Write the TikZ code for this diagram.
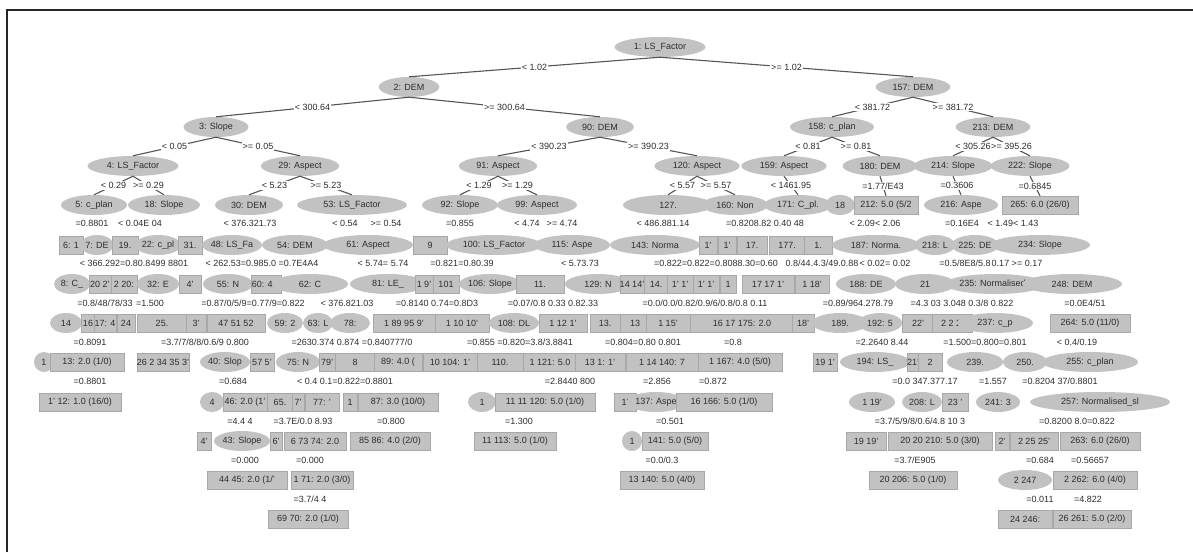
\documentclass[tikz,border=0pt]{standalone}
\usepackage{fontspec}
\setmainfont{Liberation Sans}
\usetikzlibrary{shapes.geometric}
\definecolor{nodegray}{RGB}{194,194,194}
\definecolor{leafline}{RGB}{168,168,168}
\definecolor{edgegray}{RGB}{85,85,85}
\definecolor{textgray}{RGB}{45,45,45}

\begin{document}
\begin{tikzpicture}[
    x=1pt, y=-1pt,
    every node/.style={font=\fontsize{9}{10}\selectfont, text=textgray},
    split/.style={ellipse, fill=nodegray, inner xsep=6pt, inner ysep=0pt, minimum height=20pt},
    leaf/.style={rectangle, fill=nodegray, draw=leafline, line width=0.4pt,
      inner xsep=1pt, inner ysep=0pt, minimum height=18pt},
    cond/.style={fill=white, inner sep=1pt},
    branch/.style={draw=edgegray, line width=1.1pt},
  ]
\useasboundingbox (0,0) rectangle (1193,552);
\draw[line width=1.6pt, black!85] (7,552) -- (7,10) -- (1193,10);

% --- row y-positions (nodes)
\def\yA{47}\def\yB{87}\def\yC{127}\def\yD{166}\def\yE{205}\def\yF{245}\def\yG{284}
\def\yH{323}\def\yI{362}\def\yJ{402}\def\yK{441}\def\yL{480}\def\yM{519}
% --- row y-positions (split values)
\def\lE{223}\def\lF{263}\def\lG{303}\def\lH{342}\def\lI{381}\def\lJ{421}\def\lK{460}\def\lL{499}

% Levels 0-3
\node[split] (n1) at (660,\yA) {1: LS\_Factor};
\node[split] (n2) at (409,\yB) {2: DEM};
\node[split] (n157) at (913,\yB) {157: DEM};
\node[split] (n3) at (216,\yC) {3: Slope};
\node[split] (n90) at (600,\yC) {90: DEM};
\node[split] (n158) at (832,\yC) {158: c\_plan};
\node[split] (n213) at (993,\yC) {213: DEM};
\node[split] (n4) at (133,\yD) {4: LS\_Factor};
\node[split] (n29) at (300,\yD) {29: Aspect};
\node[split] (n91) at (498,\yD) {91: Aspect};
\node[split] (n120) at (697,\yD) {120: Aspect};
\node[split] (n159) at (784,\yD) {159: Aspect};
\node[split] (n180) at (880,\yD) {180: DEM};
\node[split] (n214) at (953,\yD) {214: Slope};
\node[split] (n222) at (1030,\yD) {222: Slope};

% Level 4
\node[split, inner xsep=0pt, minimum width=66] (n5) at (94,\yE) {5: c\_plan};
\node[split, inner xsep=0pt, minimum width=72] (n18) at (164,\yE) {18: Slope};
\node[split, inner xsep=0pt, minimum width=68] (n30) at (249,\yE) {30: DEM};
\node[split, inner xsep=0pt, minimum width=110] (n53) at (352,\yE) {53: LS\_Factor};
\node[split, inner xsep=0pt, minimum width=76] (n92) at (460,\yE) {92: Slope};
\node[split, inner xsep=0pt, minimum width=80] (n99) at (537,\yE) {99: Aspect};
\node[split, inner xsep=0pt, minimum width=90] (n127) at (668,\yE) {127.};
\node[split, inner xsep=0pt, minimum width=66] (n160) at (735,\yE) {160: Non};
\node[split, inner xsep=0pt, minimum width=68] (n171) at (798,\yE) {171: C\_pl.};
\node[split, inner xsep=0pt, minimum width=30] (n18x) at (840,\yE) {18};
\node[leaf, minimum width=64] (n212) at (886,\yE) {212: 5.0 (5/2};
\node[split, inner xsep=0pt, minimum width=74] (n216) at (961,\yE) {216: Aspe};
\node[leaf, minimum width=76] (n265) at (1040,\yE) {265: 6.0 (26/0)};

% Connectors with split values
\draw[branch] (n1.south) -- node[cond] {< 1.02} (n2.north);
\draw[branch] (n1.south) -- node[cond] {>= 1.02} (n157.north);
\draw[branch] (n2.south) -- node[cond] {< 300.64} (n3.north);
\draw[branch] (n2.south) -- node[cond] {>= 300.64} (n90.north);
\draw[branch] (n157.south) -- node[cond] {< 381.72} (n158.north);
\draw[branch] (n157.south) -- node[cond] {>= 381.72} (n213.north);
\draw[branch] (n3.south) -- node[cond] {< 0.05} (n4.north);
\draw[branch] (n3.south) -- node[cond] {>= 0.05} (n29.north);
\draw[branch] (n90.south) -- node[cond] {< 390.23} (n91.north);
\draw[branch] (n90.south) -- node[cond] {>= 390.23} (n120.north);
\draw[branch] (n158.south) -- node[cond] {< 0.81} (n159.north);
\draw[branch] (n158.south) -- node[cond] {>= 0.81} (n180.north);
\draw[branch] (n213.south) -- node[cond] {< 305.26} (n214.north);
\draw[branch] (n213.south) -- node[cond] {>= 395.26} (n222.north);
\draw[branch] (n4.south) -- node[cond] {< 0.29} (n5.north);
\draw[branch] (n4.south) -- node[cond] {>= 0.29} (n18.north);
\draw[branch] (n29.south) -- node[cond] {< 5.23} (n30.north);
\draw[branch] (n29.south) -- node[cond] {>= 5.23} (n53.north);
\draw[branch] (n91.south) -- node[cond] {< 1.29} (n92.north);
\draw[branch] (n91.south) -- node[cond] {>= 1.29} (n99.north);
\draw[branch] (n120.south) -- node[cond] {< 5.57} (n127.north);
\draw[branch] (n120.south) -- node[cond] {>= 5.57} (n160.north);
\draw[branch] (n159.south) -- node[cond] {< 1461.95} (n171.north);
\draw[branch] (n180.south) -- node[cond] {=1.77/E43} (n212.north);
\draw[branch] (n214.south) -- node[cond] {=0.3606} (n216.north);
\draw[branch] (n222.south) -- node[cond] {=0.6845} (n265.north);

% Rows 5-12, packed side by side
\foreach \x/\wid/\kind/\txt [count=\i] in {71/24/leaf/{6: 1}, 97/30/split/{7: DE},
    125/26/leaf/{19.}, 158/40/split/{22: c\_pl}, 190/24/leaf/{31.}, 232/56/split/{48: LS\_Fa},
    295/66/split/{54: DEM}, 368/90/split/{61: Aspect}, 430/34/leaf/{9},
    494/96/split/{100: LS\_Factor}, 572/76/split/{115: Aspe}, 655/90/split/{143: Norma},
    708/18/leaf/{1'}, 727/18/leaf/{1'}, 752/30/leaf/{17.}, 787/36/leaf/{177.}, 818/28/leaf/{1.},
    876/88/split/{187: Norma.}, 935/40/split/{218: L}, 975/40/split/{225: DE},
    1040/100/split/{234: Slope}}
  \node[\kind, inner xsep=0pt, minimum width=\wid] (rF-\i) at (\x,\yF) {\txt};

\foreach \x/\wid/\kind/\txt [count=\i] in {72/36/split/{8: C\_}, 100/22/leaf/{20 2'},
    124/26/leaf/{2 20:}, 158/42/split/{32: E}, 190/22/leaf/{4'}, 228/50/split/{55: N},
    266/30/leaf/{60: 4.0}, 310/76/split/{62: C}, 388/76/split/{81: LE\_}, 424/18/leaf/{1 9'},
    446/26/leaf/{101}, 490/60/split/{106: Slope}, 540/48/leaf/{11.}, 598/66/split/{129: N},
    632/24/leaf/{14 14'}, 656/24/leaf/{14.}, 680/26/leaf/{1' 1'}, 706/26/leaf/{1' 1'},
    728/16/leaf/{1}, 768/52/leaf/{17 17 1'}, 812/34/leaf/{1 18'}, 866/60/split/{188: DE},
    925/60/split/{21}, 995/92/split/{235: Normalised\_}, 1072/100/split/{248: DEM}}
  \node[\kind, inner xsep=0pt, minimum width=\wid] (rG-\i) at (\x,\yG) {\txt};

\foreach \x/\wid/\kind/\txt [count=\i] in {66/32/split/{14}, 88/14/leaf/{16},
    105/22/leaf/{17: 4}, 126/18/leaf/{24}, 162/50/leaf/{25.}, 196/20/leaf/{3'},
    236/58/leaf/{47 51 52}, 285/36/split/{59: 2}, 318/30/split/{63: L}, 350/40/split/{78:},
    404/62/leaf/{1 89 95 9'}, 462/54/leaf/{1 10 10'}, 514/50/split/{108: DL},
    563/48/leaf/{1 12 1'}, 605/30/leaf/{13.}, 635/30/leaf/{13}, 668/44/leaf/{1 15'},
    742/104/leaf/{16 17 175: 2.0}, 803/22/leaf/{18'}, 840/56/split/{189.},
    880/44/split/{192: 5}, 918/32/leaf/{22'}, 952/40/leaf/{2 2 2'},
    995/76/split/{237: c\_p}, 1090/80/leaf/{264: 5.0 (11/0)}}
  \node[\kind, inner xsep=0pt, minimum width=\wid] (rH-\i) at (\x,\yH) {\txt};

\foreach \x/\wid/\kind/\txt [count=\i] in {44/20/split/{1}, 87/74/leaf/{13: 2.0 (1/0)},
    163/52/leaf/{26 2 34 35 3'}, 225/50/split/{40: Slop}, 262/24/leaf/{57 5'},
    298/44/split/{75: N}, 327/16/leaf/{79'}, 355/40/leaf/{8}, 398/48/leaf/{89: 4.0 (},
    450/54/leaf/{10 104: 1'}, 500/46/leaf/{110.}, 550/54/leaf/{1 121: 5.0},
    600/50/leaf/{13 1: 1'}, 662/72/leaf/{1 14 140: 7}, 740/84/leaf/{1 167: 4.0 (5/0)},
    825/24/leaf/{19 1'}, 875/70/split/{194: LS\_}, 913/12/leaf/{21'}, 930/24/leaf/{2},
    975/56/split/{239.}, 1025/44/split/{250.}, 1090/96/split/{255: c\_plan}}
  \node[\kind, inner xsep=0pt, minimum width=\wid] (rI-\i) at (\x,\yI) {\txt};

\foreach \x/\wid/\kind/\txt [count=\i] in {80/82/leaf/{1' 12: 1.0 (16/0)},
    212/24/split/{4}, 245/44/leaf/{46: 2.0 (1'}, 280/26/leaf/{65.}, 298/12/leaf/{7'},
    322/34/leaf/{77: '}, 350/14/leaf/{1}, 398/80/leaf/{87: 3.0 (10/0)},
    482/28/split/{1}, 545/100/leaf/{11 11 120: 5.0 (1/0)}, 625/22/leaf/{1'},
    656/44/split/{137: Aspe}, 724/96/leaf/{16 166: 5.0 (1/0)}, 872/46/split/{1 19'},
    922/40/split/{208: L}, 955/26/leaf/{23 '}, 998/44/split/{241: 3},
    1100/140/split/{257: Normalised\_sl}}
  \node[\kind, inner xsep=0pt, minimum width=\wid] (rJ-\i) at (\x,\yJ) {\txt};

\foreach \x/\wid/\kind/\txt [count=\i] in {204/14/leaf/{4'}, 242/56/split/{43: Slope},
    276/12/leaf/{6'}, 315/62/leaf/{6 73 74: 2.0}, 390/80/leaf/{85 86: 4.0 (2/0)},
    515/82/leaf/{11 113: 5.0 (1/0)}, 632/20/split/{1}, 675/66/leaf/{141: 5.0 (5/0)},
    866/40/leaf/{19 19'}, 940/104/leaf/{20 20 210: 5.0 (3/0)}, 1002/14/leaf/{2'},
    1034/48/leaf/{2 25 25'}, 1100/80/leaf/{263: 6.0 (26/0)}}
  \node[\kind, inner xsep=0pt, minimum width=\wid] (rK-\i) at (\x,\yK) {\txt};

\foreach \x/\wid/\kind/\txt [count=\i] in {247/80/leaf/{44 45: 2.0 (1/'},
    322/62/leaf/{1 71: 2.0 (3/0)}, 662/84/leaf/{13 140: 5.0 (4/0)},
    913/88/leaf/{20 206: 5.0 (1/0)}, 1025/54/split/{2 247}, 1095/84/leaf/{2 262: 6.0 (4/0)}}
  \node[\kind, inner xsep=0pt, minimum width=\wid] (rL-\i) at (\x,\yL) {\txt};

\foreach \x/\wid/\kind/\txt [count=\i] in {308/80/leaf/{69 70: 2.0 (1/0)},
    1025/54/leaf/{24 246:}, 1092/78/leaf/{26 261: 5.0 (2/0)}}
  \node[\kind, inner xsep=0pt, minimum width=\wid] (rM-\i) at (\x,\yM) {\txt};

% Split values under the packed rows
\foreach \x/\txt [count=\i] in {92/{=0.8801}, 140/{< 0.04E 04}, 250/{< 376.321.73},
    345/{< 0.54}, 386/{>= 0.54}, 460/{=0.855}, 527/{< 4.74}, 562/{>= 4.74},
    663/{< 486.881.14}, 765/{=0.8208.82 0.40 48}, 875/{< 2.09< 2.06}, 962/{=0.16E4},
    1013/{< 1.49< 1.43}}
  \node (vE-\i) at (\x,\lE) {\txt};
\foreach \x/\txt [count=\i] in {134/{< 366.292=0.80.8499 8801}, 262/{< 262.53=0.985.0 =0.7E4A4},
    383/{< 5.74= 5.74}, 462/{=0.821=0.80.39}, 580/{< 5.73.73},
    716/{=0.822=0.822=0.8088.30=0.60}, 822/{0.8/44.4.3/49.0.88}, 885/{< 0.02= 0.02},
    965/{=0.5/8E8/5.8}, 1017/{0.17 >= 0.17}}
  \node (vF-\i) at (\x,\lF) {\txt};
\foreach \x/\txt [count=\i] in {105/{=0.8/48/78/33}, 150/{=1.500}, 253/{=0.87/0/5/9=0.77/9=0.822},
    347/{< 376.821.03}, 437/{=0.8140 0.74=0.8D3}, 553/{=0.07/0.8 0.33 0.82.33},
    705/{=0.0/0.0/0.82/0.9/6/0.8/0.8 0.11}, 858/{=0.89/964.278.79},
    962/{=4.3 03 3.048 0.3/8 0.822}, 1085/{=0.0E4/51}}
  \node (vG-\i) at (\x,\lG) {\txt};
\foreach \x/\txt [count=\i] in {90/{=0.8091}, 205/{=3.7/7/8/8/0.6/9 0.800},
    352/{=2630.374 0.874 =0.840777/0}, 520/{=0.855 =0.820=3.8/3.8841},
    643/{=0.804=0.80 0.801}, 733/{=0.8}, 882/{=2.2640 8.44}, 985/{=1.500=0.800=0.801},
    1077/{< 0.4/0.19}}
  \node (vH-\i) at (\x,\lH) {\txt};
\foreach \x/\txt [count=\i] in {90/{=0.8801}, 233/{=0.684}, 345/{< 0.4 0.1=0.822=0.8801},
    570/{=2.8440 800}, 657/{=2.856}, 713/{=0.872}, 925/{=0.0 347.377.17},
    993/{=1.557}, 1060/{=0.8204 37/0.8801}}
  \node (vI-\i) at (\x,\lI) {\txt};
\foreach \x/\txt [count=\i] in {240/{=4.4 4}, 303/{=3.7E/0.0 8.93}, 391/{=0.800},
    519/{=1.300}, 670/{=0.501}, 920/{=3.7/5/9/8/0.6/4.8 10 3}, 1077/{=0.8200 8.0=0.822}}
  \node (vJ-\i) at (\x,\lJ) {\txt};
\foreach \x/\txt [count=\i] in {245/{=0.000}, 310/{=0.000}, 662/{=0.0/0.3},
    915/{=3.7/E905}, 1040/{=0.684}, 1090/{=0.56657}}
  \node (vK-\i) at (\x,\lK) {\txt};
\foreach \x/\txt [count=\i] in {310/{=3.7/4 4}, 1040/{=0.011}, 1088/{=4.822}}
  \node (vL-\i) at (\x,\lL) {\txt};
\end{tikzpicture}
\end{document}
